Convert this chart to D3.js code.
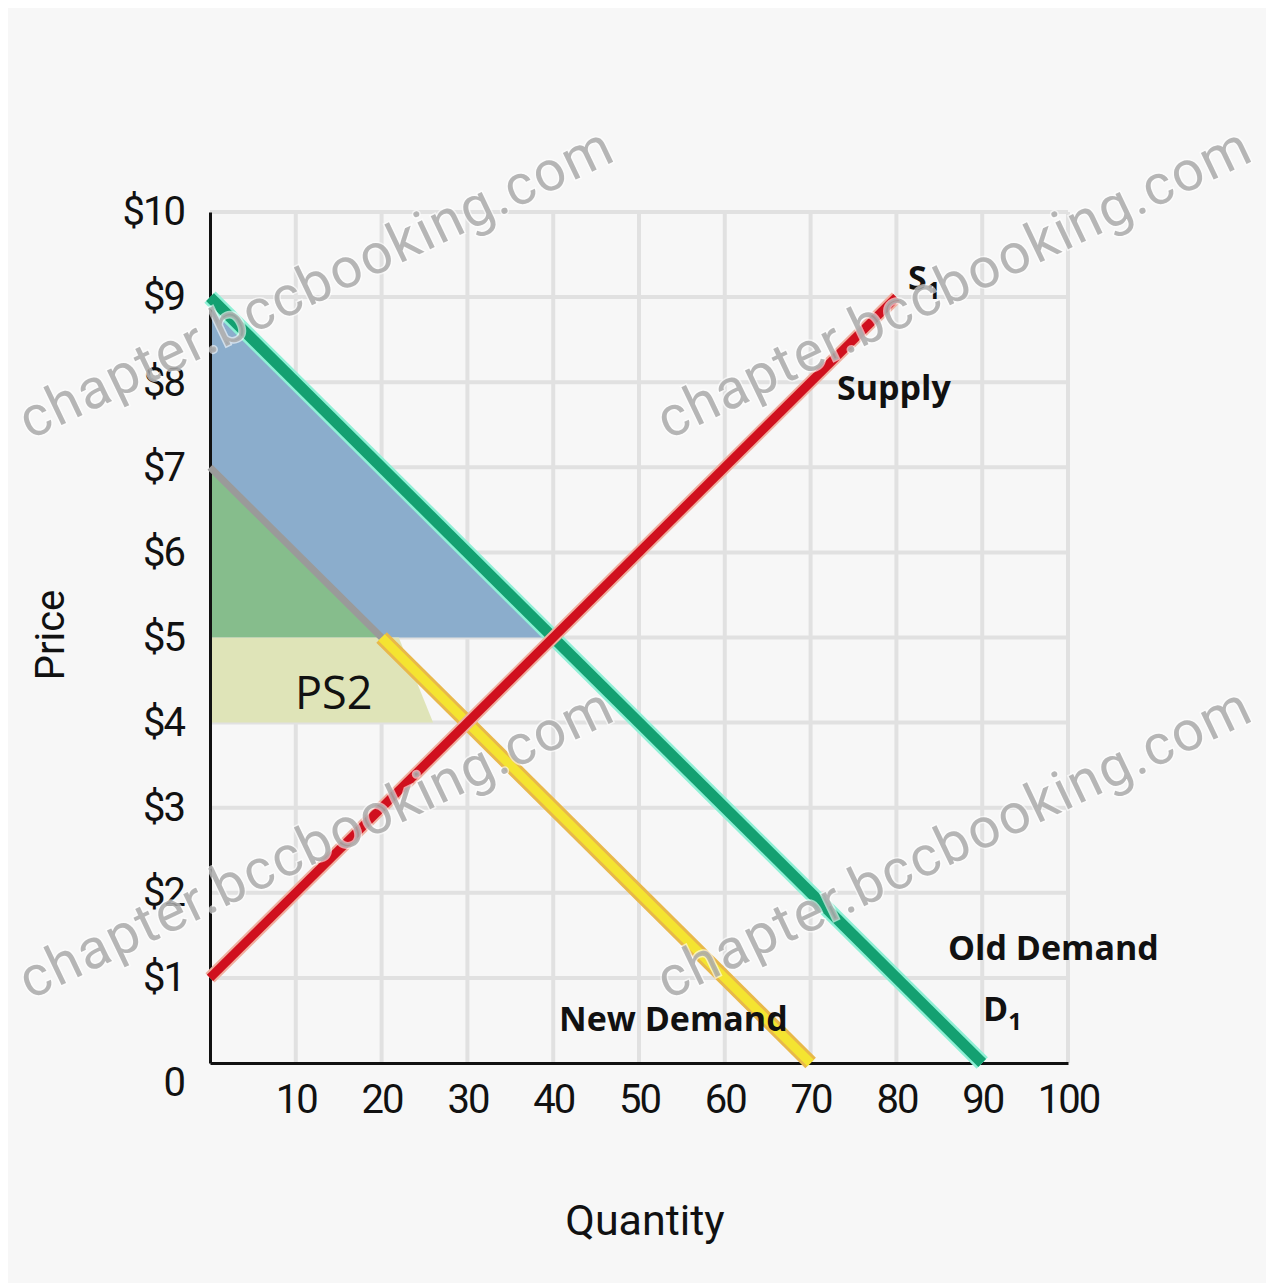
<!DOCTYPE html>
<html>
<head>
<meta charset="utf-8">
<script src="https://cdn.jsdelivr.net/npm/d3@7"></script>
<style>
  body { margin: 0; background: #fff; }
  svg { display: block; }
</style>
</head>
<body>
<div id="plot"></div>
<script>
var width = 1274;
var height = 1283;

// chart values
var xTicks = [10, 20, 30, 40, 50, 60, 70, 80, 90, 100];
var yTicks = [0, 1, 2, 3, 4, 5, 6, 7, 8, 9, 10];
var yTickLabels = ['0', '$1', '$2', '$3', '$4', '$5', '$6', '$7', '$8', '$9', '$10'];
var supply = [[0, 1], [80, 9]];
var oldDemand = [[0, 9], [90, 0]];
var newDemandShaded = [[0, 7], [20, 5]];
var newDemand = [[20, 5], [70, 0]];
var csOld = [[0, 9], [40, 5], [0, 5]];
var csNew = [[0, 7], [20, 5], [0, 5]];
var ps2 = [[0, 5], [22, 5], [26, 4], [0, 4]];
var watermarkText = 'chapter.bccbooking.com';
var watermarks = [[30, 440], [668, 440], [30, 1000], [668, 1000]];

var canvas = d3.select('#plot')
    .append('svg')
    .attr('width', width)
    .attr('height', height);

canvas.append('rect')
    .attr('x', 8).attr('y', 8)
    .attr('width', 1258).attr('height', 1275)
    .attr('fill', '#f7f7f7');

var x_scale = d3.scaleLinear().domain([0, 100]).range([210, 1068]);
var y_scale = d3.scaleLinear().domain([0, 10]).range([1063, 212]);

var line = d3.line()
    .x(function(d) { return x_scale(d[0]); })
    .y(function(d) { return y_scale(d[1]); });

// grid
canvas.append('g').selectAll('line')
    .data(xTicks)
    .enter().append('line')
    .attr('x1', function(d) { return x_scale(d); })
    .attr('x2', function(d) { return x_scale(d); })
    .attr('y1', y_scale(0))
    .attr('y2', y_scale(10))
    .attr('stroke', '#e1e1e1')
    .attr('stroke-width', 4);

canvas.append('g').selectAll('line')
    .data(yTicks.slice(1))
    .enter().append('line')
    .attr('x1', x_scale(0))
    .attr('x2', x_scale(100))
    .attr('y1', function(d) { return y_scale(d); })
    .attr('y2', function(d) { return y_scale(d); })
    .attr('stroke', '#e1e1e1')
    .attr('stroke-width', 4);

// surplus areas
canvas.append('path').attr('d', line(csOld) + 'Z').attr('fill', '#8badcc');
canvas.append('path').attr('d', line(csNew) + 'Z').attr('fill', '#86bd8c');
canvas.append('path').attr('d', line(ps2) + 'Z').attr('fill', '#dfe4b8');

// axes
var x_axis = d3.axisBottom(x_scale).tickValues(xTicks).tickSize(0).tickPadding(22);
var y_axis = d3.axisLeft(y_scale).tickValues(yTicks).tickSize(0).tickPadding(26)
    .tickFormat(function(d, i) { return yTickLabels[i]; });

var gx = canvas.append('g')
    .attr('transform', 'translate(0,' + y_scale(0) + ')')
    .call(x_axis);
var gy = canvas.append('g')
    .attr('transform', 'translate(' + x_scale(0) + ',0)')
    .call(y_axis);

[gx, gy].forEach(function(g) {
    g.select('.domain').attr('stroke', '#111').attr('stroke-width', 3);
    g.selectAll('text')
        .attr('fill', '#111')
        .style('font-family', 'Roboto, sans-serif')
        .style('font-size', '40px')
        .style('letter-spacing', '-2px');
});
gy.selectAll('.tick')
    .filter(function(d) { return d === 0; })
    .select('text')
    .attr('dy', '0.8em');

canvas.append('text')
    .attr('transform', 'translate(64,635) rotate(-90)')
    .attr('text-anchor', 'middle')
    .style('font-family', 'Roboto, sans-serif')
    .style('font-size', '40px')
    .attr('fill', '#111')
    .text('Price');

canvas.append('text')
    .attr('x', 645).attr('y', 1235)
    .attr('text-anchor', 'middle')
    .style('font-family', 'Roboto, sans-serif')
    .style('font-size', '43px')
    .attr('fill', '#111')
    .text('Quantity');

// curves
function drawCurve(pts, outer, outerW, inner, innerW) {
    canvas.append('path').attr('d', line(pts))
        .attr('fill', 'none').attr('stroke', outer)
        .attr('stroke-width', outerW).attr('stroke-linecap', 'butt');
    canvas.append('path').attr('d', line(pts))
        .attr('fill', 'none').attr('stroke', inner)
        .attr('stroke-width', innerW).attr('stroke-linecap', 'butt');
}

canvas.append('path').attr('d', line(newDemandShaded))
    .attr('fill', 'none').attr('stroke', '#9a9a9a').attr('stroke-width', 7);
drawCurve(newDemand, '#e8b84a', 15, '#f4e431', 9);
drawCurve(oldDemand, '#8ff0d6', 16, '#14a071', 11);
drawCurve(supply, '#f0b0a0', 13, '#d0101e', 9);

// annotations
var bold = 'Open Sans, sans-serif';
function label(x, y, main, sub, size) {
    var t = canvas.append('text')
        .attr('x', x).attr('y', y)
        .style('font-family', bold)
        .style('font-weight', 700)
        .style('font-size', size + 'px')
        .attr('fill', '#111');
    t.append('tspan').text(main);
    if (sub) {
        t.append('tspan').attr('dy', 9).style('font-size', (size * 0.7) + 'px').text(sub);
    }
}
label(908, 290, 'S', '1', 34);
label(837, 400, 'Supply', null, 34);
label(948, 960, 'Old Demand', null, 34);
label(983, 1021, 'D', '1', 34);
label(559, 1031, 'New Demand', null, 34);

canvas.append('text')
    .attr('x', 295).attr('y', 709)
    .style('font-family', 'Open Sans, sans-serif')
    .style('font-size', '45px')
    .attr('fill', '#111')
    .text('PS2');

// watermarks
canvas.append('g').selectAll('text')
    .data(watermarks)
    .enter().append('text')
    .attr('transform', function(d) { return 'translate(' + d[0] + ',' + d[1] + ') rotate(-25.5)'; })
    .attr('textLength', 650)
    .style('font-family', 'Roboto, sans-serif')
    .style('font-size', '56px')
    .attr('fill', '#a9a9a9')
    .attr('fill-opacity', 0.85)
    .attr('stroke', '#ffffff')
    .attr('stroke-opacity', 0.6)
    .attr('stroke-width', 3)
    .style('paint-order', 'stroke')
    .text(watermarkText);
</script>
</body>
</html>
